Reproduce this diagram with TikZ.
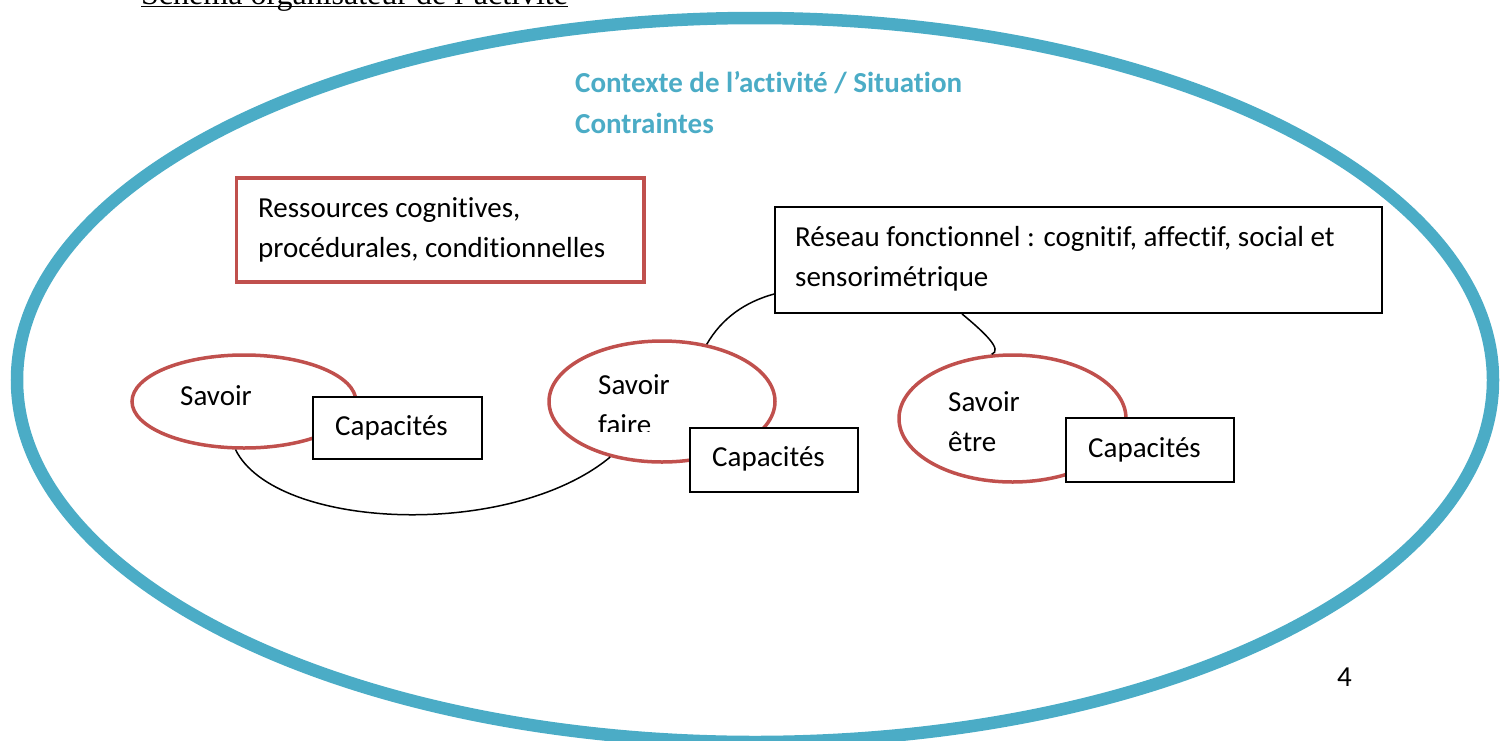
\documentclass[tikz,border=0pt]{standalone}
\usepackage{fontspec}
\setmainfont[Ligatures=NoCommon]{Carlito}
\newfontfamily\serifent{Liberation Serif}
\usepackage{tikz}
\usetikzlibrary{shapes,positioning}
\definecolor{bleuctx}{HTML}{4BACC6}
\definecolor{rougeres}{HTML}{C0504D}

\begin{document}
\begin{tikzpicture}[x=1pt,y=-1pt,
    txt/.style={anchor=base west, inner sep=0pt, align=left, font=\fontsize{29}{40}\selectfont},
    cadre/.style={ellipse, draw=bleuctx, line width=12.5pt, inner sep=0pt},
    bulle/.style={ellipse, draw=rougeres, line width=3.5pt, inner sep=0pt},
    boite/.style={rectangle, draw=black, line width=1.8pt, fill=white, inner sep=0pt},
    lien/.style={draw=black, line width=1.5pt}]

	\useasboundingbox (0,0) rectangle (1505,740);
	\clip (0,0) rectangle (1505,740);

	% en-tete coupe en haut de page
	\node [txt, font=\serifent\fontsize{32}{38}\selectfont] (entete) at (141,4) {Schéma organisateur de l’activité};
	\draw [line width=1.6pt] ([yshift=-2.5pt]entete.base west) -- ([yshift=-2.5pt]entete.base east);

	% le contexte (base des textes sur 2 lignes = derniere ligne)
	\node [cadre, minimum width=1476pt, minimum height=724pt] (contexte) at (755,380) {};
	\node [txt, text=bleuctx, font=\bfseries\fontsize{29}{41}\selectfont] (situation) at (575,133) {Contexte de l’activité / Situation\\Contraintes};

	% ressources et reseau
	\node [boite, draw=rougeres, line width=3.5pt, minimum width=407.5pt, minimum height=104pt] (ressources) at (440,230) {};
	\node [txt] (ressourcestxt) at (258,257) {Ressources cognitives,\\procédurales, conditionnelles};
	\node [boite, minimum width=607pt, minimum height=106pt] (reseau) at (1078.5,260) {};
	\node [txt] (reseautxt) at (795,286) {Réseau fonctionnel : cognitif, affectif, social et\\sensorimétrique};

	% les trois savoirs
	\node [bulle, minimum width=224pt, minimum height=93pt] (savoir) at (244,401.5) {};
	\node [bulle, minimum width=226pt, minimum height=121pt] (savoirfaire) at (662,401.5) {};
	\node [bulle, minimum width=227pt, minimum height=127pt] (savoiretre) at (1012.5,418.5) {};

	\node [txt] (savoirtxt) at (180,405) {Savoir};
	\begin{scope}
		\clip (560,360) rectangle (700,431);
		\node [txt] (savoirfairetxt) at (598,434) {Savoir\\faire};
	\end{scope}
	\node [txt] (savoiretretxt) at (948,451) {Savoir\\être};

	% liens
	\draw [lien] (savoir.260) .. controls (275,530) and (510,540) .. (savoirfaire.227);
	\draw [lien] (savoirfaire.52) .. controls (722,318) and (745,302) .. ([yshift=-34pt]reseau.west);
	\draw [lien] ([xshift=-116.5pt]reseau.south) .. controls (985,333) and (1003,350) .. (savoiretre.108);

	% capacites
	\node [boite, minimum width=169pt, minimum height=62pt] (cap1) at (397.5,428) {};
	\node [txt] (cap1txt) at (335,435) {Capacités};
	\node [boite, minimum width=168pt, minimum height=64pt] (cap2) at (774,460) {};
	\node [txt] (cap2txt) at (712,466) {Capacités};
	\node [boite, minimum width=168pt, minimum height=64pt] (cap3) at (1150,450) {};
	\node [txt] (cap3txt) at (1088,457) {Capacités};

	\node [txt] (page) at (1337,686) {4};

\end{tikzpicture}
\end{document}
